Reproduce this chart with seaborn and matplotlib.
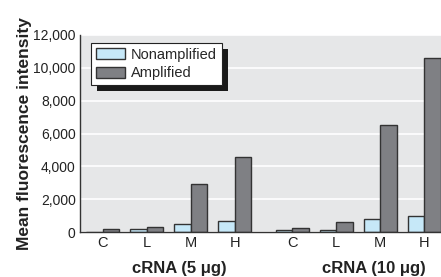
import pandas as pd
import numpy as np
import matplotlib
matplotlib.use("Agg")
import matplotlib.pyplot as plt
import seaborn as sns
from matplotlib.patches import Rectangle

# ---- data ----
levels = ["C", "L", "M", "H"]
groups = ["cRNA (5 μg)", "cRNA (10 μg)"]
nonamplified_5 = [30, 160, 470, 690]
amplified_5 = [200, 330, 2950, 4600]
nonamplified_10 = [150, 150, 820, 1000]
amplified_10 = [270, 630, 6500, 10600]

# x positions: two groups of four, with a wider gap between groups
pos_5 = [0, 1, 2, 3]
pos_10 = [4.3, 5.3, 6.3, 7.3]

rows = []
for p, v in zip(pos_5 + pos_10, nonamplified_5 + nonamplified_10):
    rows.append({"x": p, "series": "Nonamplified", "value": v})
for p, v in zip(pos_5 + pos_10, amplified_5 + amplified_10):
    rows.append({"x": p, "series": "Amplified", "value": v})
df = pd.DataFrame(rows)

sns.set_style("white")
plt.rcParams['font.family'] = ['Liberation Sans', 'DejaVu Sans']

fig = plt.figure(figsize=(4.41, 2.77), dpi=100)
ax = fig.add_axes([0.181, 0.162, 0.819, 0.712])
ax.set_facecolor("#e6e7e8")

sns.barplot(data=df, x="x", y="value", hue="series", native_scale=True,
            palette={"Nonamplified": "#c6e8f8", "Amplified": "#7f8084"},
            width=0.75, edgecolor="#333333", linewidth=1.0, saturation=1,
            errorbar=None, ax=ax, zorder=3)

ax.set_ylim(0, 12000)
ax.set_xlim(-0.52, 7.68)
ax.set_yticks(np.arange(0, 12001, 2000))
ax.set_yticklabels([f"{v:,}" for v in range(0, 12001, 2000)], fontsize=10)
ax.set_xticks(pos_5 + pos_10)
ax.set_xticklabels(levels + levels, fontsize=10.5)
ax.tick_params(axis="both", length=0, pad=3, colors="#222222")
ax.grid(axis="y", color="white", linewidth=1.2, zorder=0)
ax.set_axisbelow(True)
for s in ["top", "right"]:
    ax.spines[s].set_visible(False)
for s in ["left", "bottom"]:
    ax.spines[s].set_color("#333333")
    ax.spines[s].set_linewidth(1.0)
    ax.spines[s].set_zorder(4)

ax.set_xlabel("")
ax.set_ylabel("Mean fluorescence intensity", fontsize=12.5, fontweight="bold",
              color="#222222", labelpad=1)

# group labels under the ticks
for gx, g in zip([1.75, 6.15], groups):
    ax.text(gx, -0.183, g, transform=ax.get_xaxis_transform(), ha="center",
            va="center", fontsize=12, fontweight="bold", color="#222222")

leg = ax.legend(loc="upper left", bbox_to_anchor=(0.03, 0.96), fontsize=10.5,
                frameon=True, fancybox=False, framealpha=1, edgecolor="#222222",
                handlelength=2.0, handleheight=0.8, borderpad=0.35,
                labelspacing=0.3, handletextpad=0.4, borderaxespad=0)
leg.get_frame().set_linewidth(0.8)
leg.set_zorder(6)

# solid black drop shadow behind the legend
fig.canvas.draw()
bb = leg.get_window_extent().transformed(ax.transAxes.inverted())
dx = 6 / ax.bbox.width
dy = 6 / ax.bbox.height
ax.add_patch(Rectangle((bb.x0 + dx, bb.y0 - dy), bb.width, bb.height,
                       transform=ax.transAxes, facecolor="#1a1a1a",
                       edgecolor="none", zorder=5.5, clip_on=False))

fig.savefig("out.png", dpi=100)
